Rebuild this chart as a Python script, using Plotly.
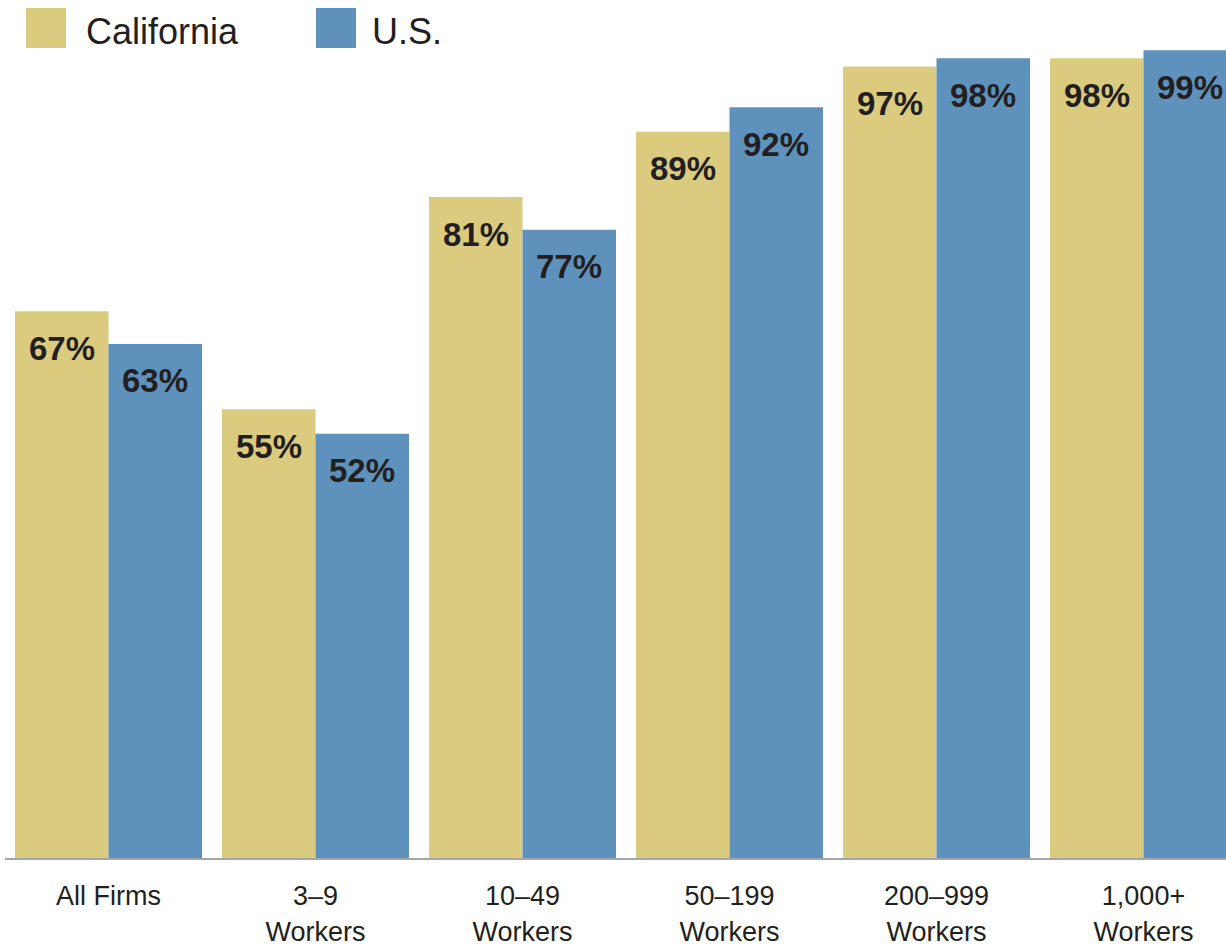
import plotly.graph_objects as go

categories = ["All Firms", "3–9<br>Workers", "10–49<br>Workers", "50–199<br>Workers",
              "200–999<br>Workers", "1,000+<br>Workers"]
california = [67, 55, 81, 89, 97, 98]
us = [63, 52, 77, 92, 98, 99]
series_names = ["California", "U.S."]
colors = ["#DBCB7E", "#5E92BD"]

xpos = list(range(len(categories)))
BARGAP = 0.0966
half = (1 - BARGAP) / 4  # center offset of each bar in a group

W, H = 1226, 945
ML, MR, MT, MB = 5, 0, 42, 87
pw, ph = W - ML - MR, H - MT - MB


def px_x(x):
    return (x - ML) / pw


def px_y(y):
    return (H - MB - y) / ph


fig = go.Figure()
for name, vals, col in zip(series_names, [california, us], colors):
    fig.add_trace(go.Bar(x=xpos, y=vals, name=name, marker=dict(color=col, line=dict(width=0)),
                         showlegend=False))

annotations = []
for k, vals in enumerate([california, us]):
    off = -half if k == 0 else half
    for i, v in enumerate(vals):
        annotations.append(dict(x=xpos[i] + off, y=v, xref="x", yref="y", text=f"{v}%",
                                showarrow=False, yanchor="middle", yshift=-37,
                                font=dict(family="Liberation Sans", size=33, color="#231F20",
                                          weight="bold")))

# legend built from squares + text
legend_sq_x = [26, 316]
legend_txt_x = [84, 370]
shapes = []
for name, col, lx, tx in zip(series_names, colors, legend_sq_x, legend_txt_x):
    shapes.append(dict(type="rect", xref="paper", yref="paper", x0=px_x(lx), x1=px_x(lx + 40),
                       y0=px_y(48), y1=px_y(8), fillcolor=col, line=dict(width=0)))
    annotations.append(dict(x=px_x(tx), y=px_y(31), xref="paper", yref="paper",
                            text=name, showarrow=False, xanchor="left", yanchor="middle",
                            font=dict(family="Liberation Sans", size=36, color="#231F20")))

fig.update_layout(
    annotations=annotations,
    shapes=shapes,
    width=W, height=H,
    margin=dict(l=ML, r=MR, t=MT, b=MB, pad=0),
    paper_bgcolor="white", plot_bgcolor="white",
    barmode="group", bargap=BARGAP, bargroupgap=0,
    xaxis=dict(range=[-0.5, -0.5 + pw / 207.0], tickmode="array", tickvals=xpos,
               ticktext=categories, showgrid=False, zeroline=False, showline=True,
               linecolor="#A3A6AA", linewidth=2, ticks="", automargin=False,
               tickfont=dict(family="Liberation Sans", size=27, color="#231F20"),
               ticklabelstandoff=13),
    yaxis=dict(range=[0, 100], visible=False, showgrid=False, zeroline=False,
               automargin=False),
    showlegend=False,
)

fig.write_html("out.html", config={"displayModeBar": False})
